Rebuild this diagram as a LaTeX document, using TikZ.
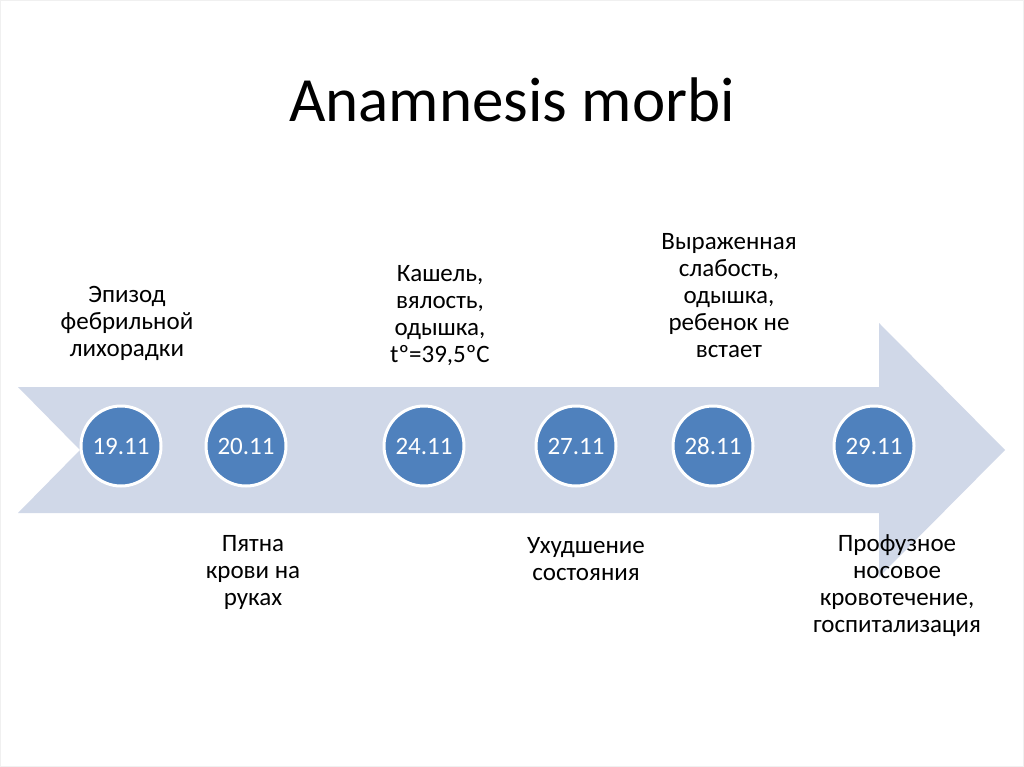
\documentclass[tikz,border=0pt]{standalone}
\usepackage{fontspec}
\setmainfont{Carlito}
\definecolor{arrowfill}{HTML}{D0D8E8}
\definecolor{dotfill}{HTML}{4F81BD}
\tikzset{
  datedot/.style={circle, fill=dotfill, draw=white, line width=3pt, minimum size=80pt, inner sep=0pt, text=white, font=\fontsize{25}{28}\selectfont},
  note/.style={align=center, text=black, font=\fontsize{25}{27}\selectfont, inner sep=0pt},
}
\begin{document}
\begin{tikzpicture}[x=1pt, y=-1pt]
\useasboundingbox (0,0) rectangle (1024,767);
\fill[white] (0,0) rectangle (1024,767);
\draw[black!6, line width=1pt] (0.5,0.5) rectangle (1023.5,766.5);
\node[font=\fontsize{63}{72}\selectfont] (title) at (512,100) {Anamnesis morbi};
% big arrow
\fill[arrowfill] (18,387) -- (879,387) -- (879,323) -- (1005,450) -- (879,577) -- (879,513) -- (18,513) -- (80,450) -- cycle;
% date circles
\node[datedot] (d1) at (121,446) {19.11};
\node[datedot] (d2) at (246,446) {20.11};
\node[datedot] (d3) at (424,446) {24.11};
\node[datedot] (d4) at (576,446) {27.11};
\node[datedot] (d5) at (713,446) {28.11};
\node[datedot] (d6) at (874,446) {29.11};
% notes
\node[note] (n1) at (127,323) {Эпизод\\фебрильной\\лихорадки};
\node[note] (n3) at (440,316) {Кашель,\\вялость,\\одышка,\\tº=39,5ºC};
\node[note] (n5) at (729,296) {Выраженная\\слабость,\\одышка,\\ребенок не\\встает};
\node[note] (n2) at (253,572) {Пятна\\крови на\\руках};
\node[note] (n4) at (586,559) {Ухудшение\\состояния};
\node[note] (n6) at (897,586) {Профузное\\носовое\\кровотечение,\\госпитализация};
\end{tikzpicture}
\end{document}
